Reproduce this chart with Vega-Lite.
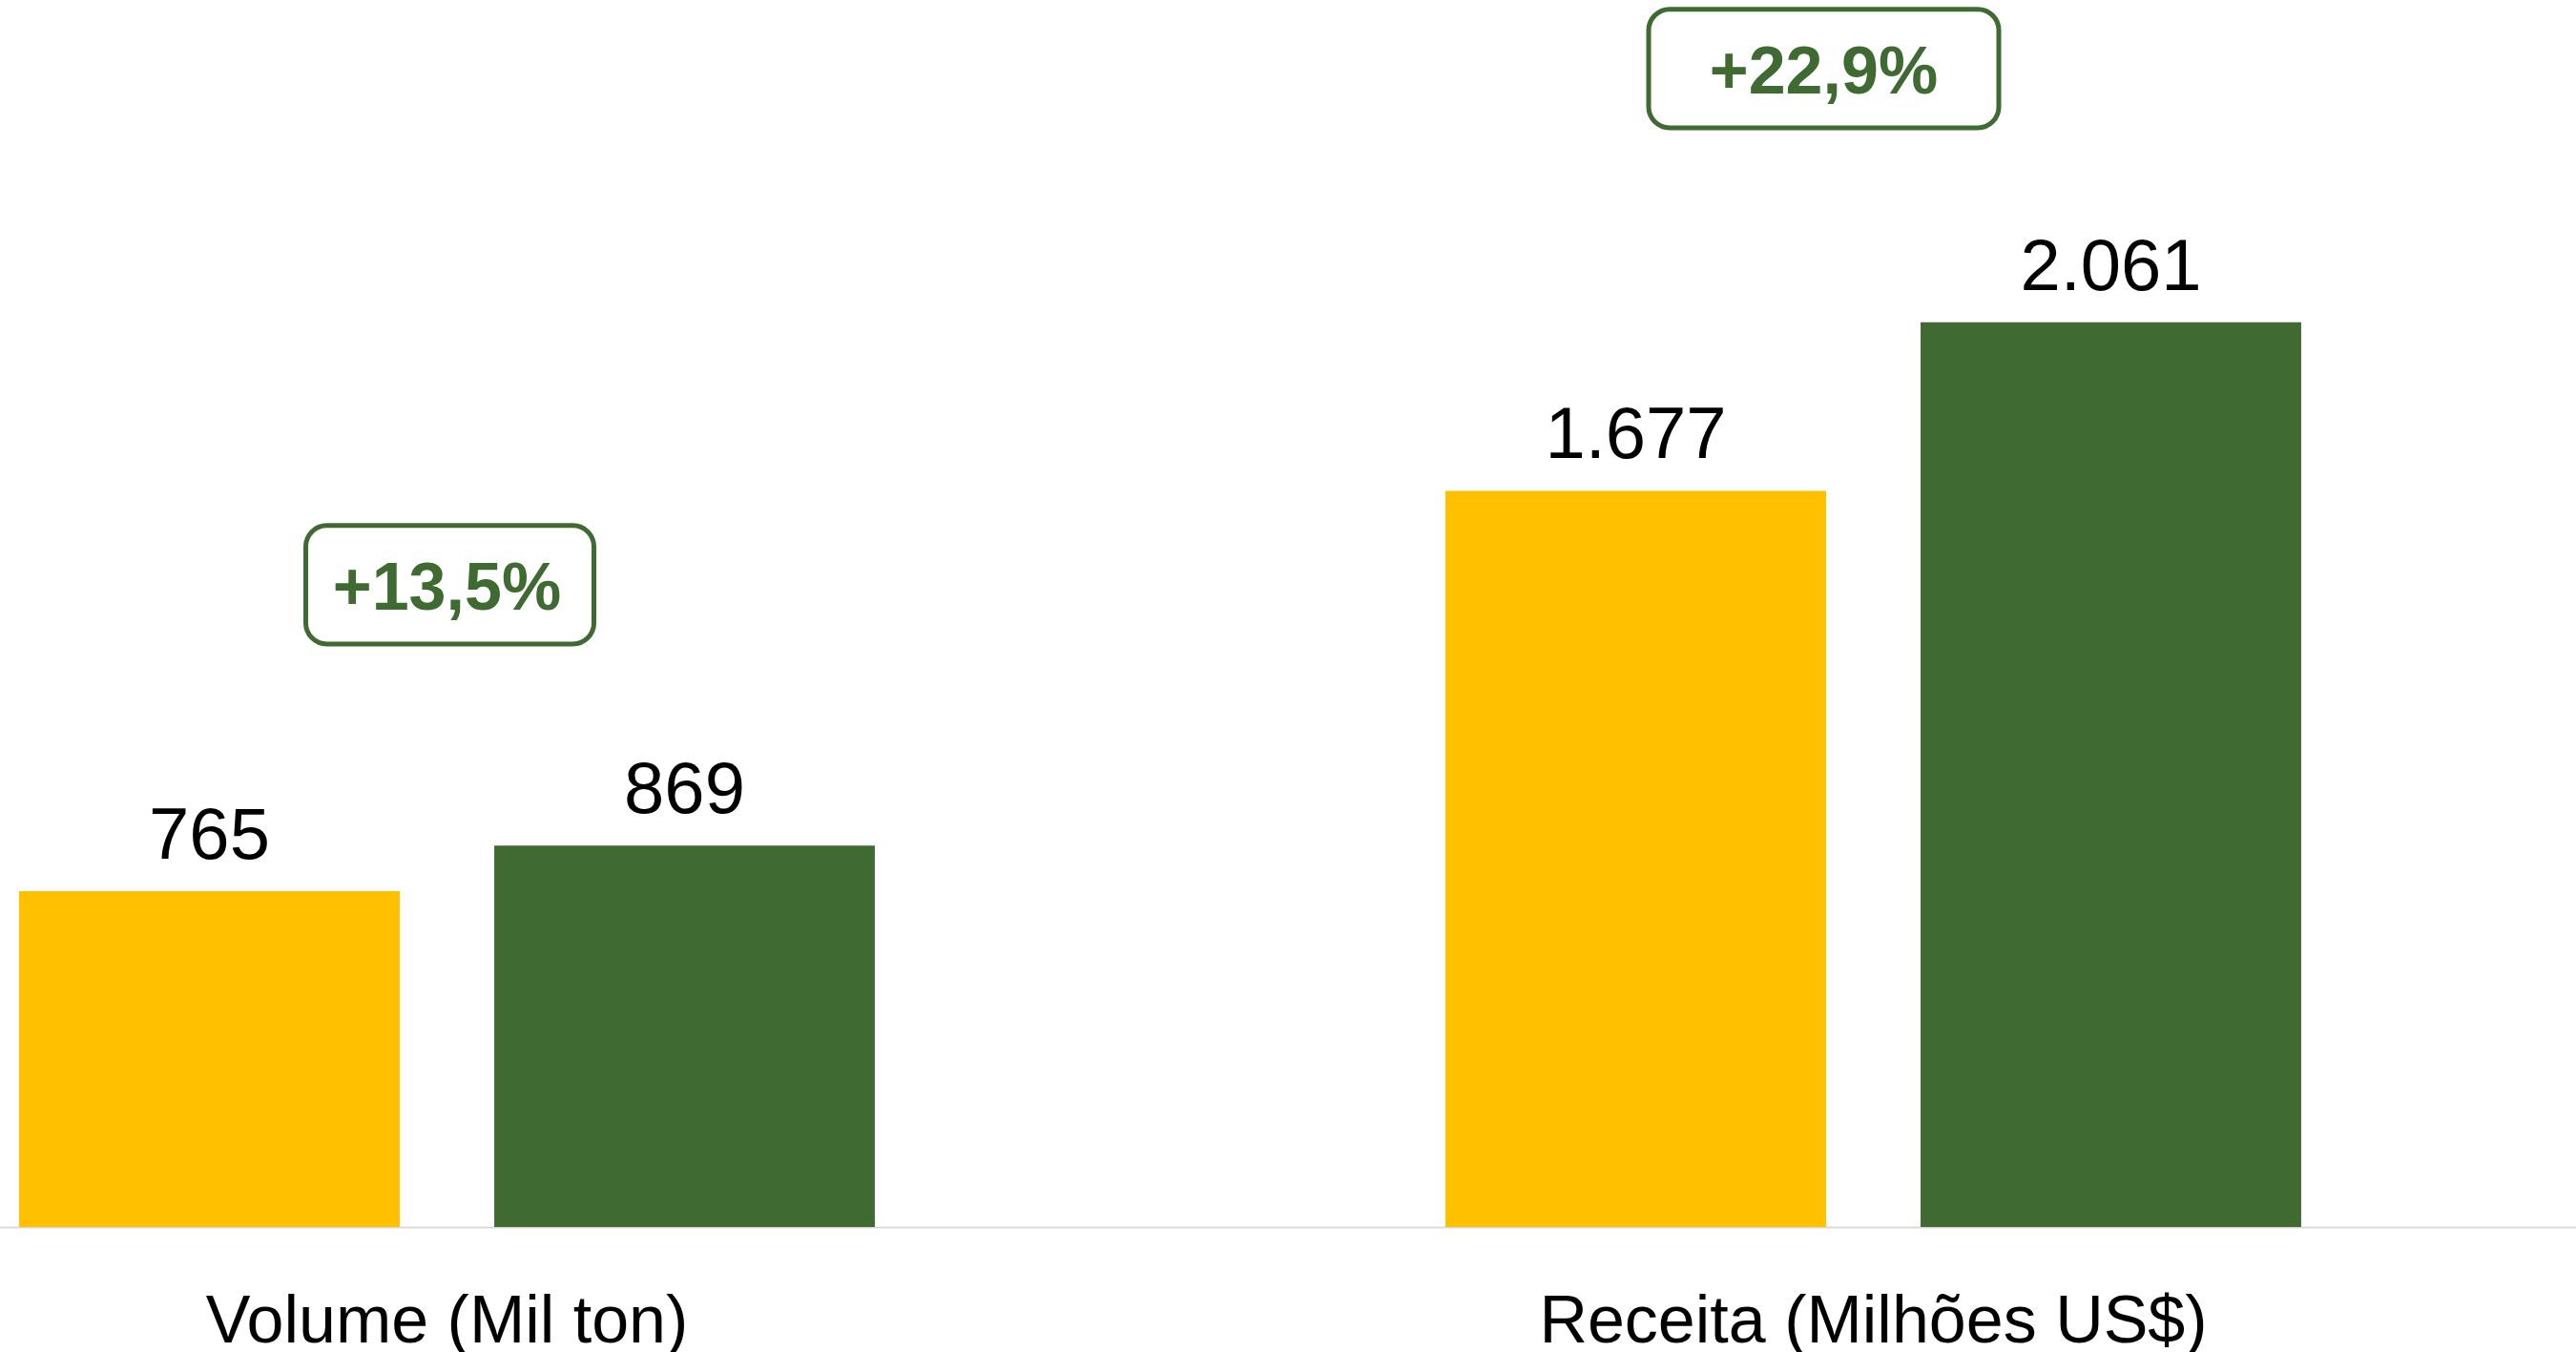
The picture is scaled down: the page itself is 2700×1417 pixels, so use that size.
{
  "$schema": "https://vega.github.io/schema/vega-lite/v6.json",
  "width": 2700,
  "height": 1286,
  "autosize": {"type": "none"},
  "padding": {"left": 0, "top": 0, "right": 0, "bottom": 131},
  "background": "white",
  "config": {
    "view": {"stroke": null},
    "locale": {"number": {"decimal": ",", "thousands": ".", "grouping": [3], "currency": ["US$", ""]}}
  },
  "datasets": {
    "barras": [
      {"grupo": "Volume (Mil ton)", "serie": "Anterior", "valor": 765},
      {"grupo": "Volume (Mil ton)", "serie": "Atual", "valor": 869},
      {"grupo": "Receita (Milhões US$)", "serie": "Anterior", "valor": 1677},
      {"grupo": "Receita (Milhões US$)", "serie": "Atual", "valor": 2061}
    ],
    "variacao": [
      {"grupo": "Volume (Mil ton)", "texto": "+13,5%", "topo": 1598, "base": 1328, "linha": 1407},
      {"grupo": "Receita (Milhões US$)", "texto": "+22,9%", "topo": 2774, "base": 2504, "linha": 2583}
    ]
  },
  "encoding": {
    "x": {
      "field": "grupo",
      "type": "nominal",
      "sort": null,
      "scale": {"domain": ["Volume (Mil ton)", "Receita (Milhões US$)"], "range": [-279, 2711], "paddingInner": 0, "paddingOuter": 0},
      "axis": {
        "title": null,
        "ticks": false,
        "tickSize": 0,
        "labelAngle": 0,
        "labelFontSize": 70,
        "labelFont": "Liberation Sans",
        "labelColor": "black",
        "labelPadding": 120,
        "labelBaseline": "alphabetic",
        "labelOverlap": false,
        "labelLimit": 0,
        "domainColor": "#D9D9D9",
        "domainWidth": 2,
        "grid": false
      }
    }
  },
  "layer": [
    {
      "data": {"name": "barras"},
      "mark": {"type": "bar"},
      "encoding": {
        "xOffset": {"field": "serie", "type": "nominal", "scale": {"domain": ["Anterior", "Atual"], "paddingInner": 0.199, "paddingOuter": 0.6005}},
        "y": {"field": "valor", "type": "quantitative", "scale": {"domain": [0, 2795], "nice": false, "zero": true}, "axis": null},
        "color": {"field": "serie", "type": "nominal", "scale": {"domain": ["Anterior", "Atual"], "range": ["#FFC000", "#3F6A31"]}, "legend": null}
      }
    },
    {
      "data": {"name": "barras"},
      "mark": {"type": "text", "dy": -34, "baseline": "alphabetic", "fontSize": 76, "font": "Liberation Sans", "color": "black"},
      "encoding": {
        "xOffset": {"field": "serie", "type": "nominal", "scale": {"domain": ["Anterior", "Atual"], "paddingInner": 0.199, "paddingOuter": 0.6005}},
        "y": {"field": "valor", "type": "quantitative", "scale": {"domain": [0, 2795], "nice": false, "zero": true}, "axis": null},
        "text": {"field": "valor", "type": "quantitative", "format": ",d"}
      }
    },
    {
      "data": {"name": "variacao"},
      "transform": [{"filter": "datum.grupo === 'Volume (Mil ton)'"}],
      "layer": [
        {
          "mark": {"type": "bar", "width": 302, "xOffset": 3, "cornerRadius": 22, "fill": "white", "stroke": "#3F6A31", "strokeWidth": 5},
          "encoding": {
            "y": {"field": "topo", "type": "quantitative", "scale": {"domain": [0, 2795], "nice": false, "zero": true}, "axis": null},
            "y2": {"field": "base"}
          }
        },
        {
          "mark": {"type": "text", "fontSize": 70, "fontWeight": "bold", "font": "Liberation Sans", "color": "#3F6A31", "baseline": "alphabetic", "align": "center"},
          "encoding": {
            "y": {"field": "linha", "type": "quantitative", "scale": {"domain": [0, 2795], "nice": false, "zero": true}, "axis": null},
            "text": {"field": "texto", "type": "nominal"}
          }
        }
      ]
    },
    {
      "data": {"name": "variacao"},
      "transform": [{"filter": "datum.grupo === 'Receita (Milhões US$)'"}],
      "layer": [
        {
          "mark": {"type": "bar", "width": 367, "xOffset": -52, "cornerRadius": 22, "fill": "white", "stroke": "#3F6A31", "strokeWidth": 5},
          "encoding": {
            "y": {"field": "topo", "type": "quantitative", "scale": {"domain": [0, 2795], "nice": false, "zero": true}, "axis": null},
            "y2": {"field": "base"}
          }
        },
        {
          "mark": {"type": "text", "xOffset": -52, "fontSize": 70, "fontWeight": "bold", "font": "Liberation Sans", "color": "#3F6A31", "baseline": "alphabetic", "align": "center"},
          "encoding": {
            "y": {"field": "linha", "type": "quantitative", "scale": {"domain": [0, 2795], "nice": false, "zero": true}, "axis": null},
            "text": {"field": "texto", "type": "nominal"}
          }
        }
      ]
    }
  ]
}
